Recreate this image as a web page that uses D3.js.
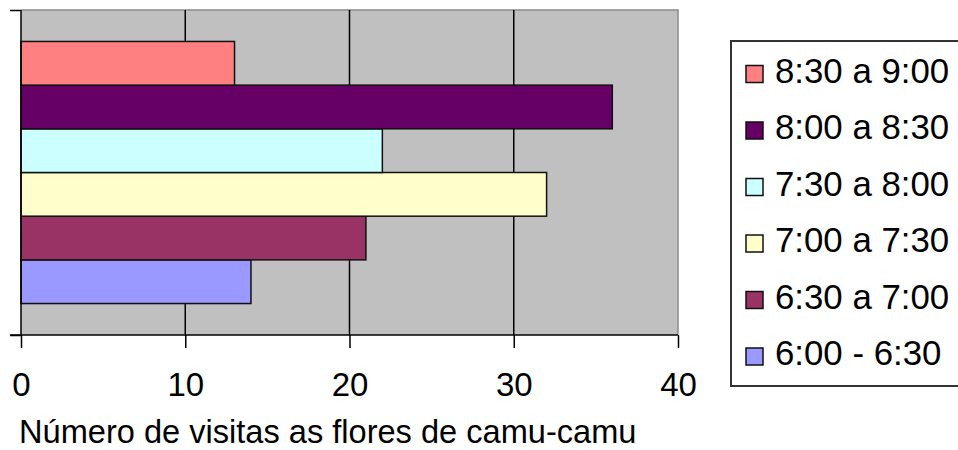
<!DOCTYPE html>
<html><head><meta charset="utf-8">
<script src="https://cdn.jsdelivr.net/npm/d3@7"></script>
<style>
body{margin:0;background:#fff;}
svg{display:block;}
text{font-family:"Liberation Sans",Arial,sans-serif;fill:#000;}
</style></head>
<body>
<svg id="c" width="958" height="450"></svg>
<script>
// Data (series order as in Excel: first series at bottom)
const series = ["6:00 - 6:30","6:30 a 7:00","7:00 a 7:30","7:30 a 8:00","8:00 a 8:30","8:30 a 9:00"];
const values = [14,21,32,22,36,13];
const colors = ["#9999FF","#993366","#FFFFCC","#CCFFFF","#660066","#FF8080"];
const xTicks = [0,10,20,30,40];
const xTitle = "Número de visitas as flores de camu-camu";

const svg = d3.select("#c");
const L = 21, R = 678, T = 10, B = 335;

const x = d3.scaleLinear().domain([0,40]).range([L,R]);
const cat = d3.scaleBand().domain(["c"]).range([B,T]).paddingInner(0).paddingOuter(0.12);
const ys = d3.scaleBand().domain(series).range([cat("c")+cat.bandwidth(), cat("c")]);

// plot background
svg.append("rect").attr("x",L).attr("y",T).attr("width",R-L).attr("height",B-T).attr("fill","#C0C0C0");
// top & right border (gray)
svg.append("path").attr("d",`M${L},${T}H${R}V${B}`).attr("fill","none").attr("stroke","#8a8a8a").attr("stroke-width",1.5);

// gridlines
svg.append("g").selectAll("line").data(xTicks.filter(t=>t>0&&t<40)).join("line")
  .attr("x1",d=>x(d)).attr("x2",d=>x(d)).attr("y1",T).attr("y2",B)
  .attr("stroke","#000").attr("stroke-width",1.5);

// bars
svg.append("g").selectAll("rect").data(series).join("rect")
  .attr("x",x(0)).attr("y",d=>ys(d)).attr("height",ys.bandwidth())
  .attr("width",(d,i)=>x(values[i])-x(0))
  .attr("fill",(d,i)=>colors[i]).attr("stroke","#111").attr("stroke-width",1.5);

// x axis
const xa = svg.append("g").attr("transform",`translate(0,${B})`)
  .call(d3.axisBottom(x).tickValues(xTicks).tickSize(13).tickPadding(25).tickSizeOuter(0));
xa.select(".domain").remove();
xa.append("line").attr("x1",10).attr("x2",R).attr("stroke","#000").attr("stroke-width",1.5);
xa.selectAll(".tick line").attr("stroke","#000").attr("stroke-width",1.5);
xa.selectAll(".tick text").attr("font-size",33).attr("font-family","'Liberation Sans',Arial,sans-serif").attr("fill","#000");

// y axis (category boundaries)
const yEdge = d3.scaleLinear().domain([0,1]).range([B,T]);
const ya = svg.append("g").attr("transform",`translate(${L},0)`)
  .call(d3.axisLeft(yEdge).tickValues([0,1]).tickSize(11).tickFormat(""));
ya.select(".domain").attr("d",`M0,${T}V${B}`).attr("stroke","#000").attr("stroke-width",1.5);
ya.selectAll(".tick line").attr("stroke","#000").attr("stroke-width",1.5);

// x title
svg.append("text").attr("x",19).attr("y",443).attr("font-size",32.6).text(xTitle);

// legend
const lg = svg.append("g");
lg.append("rect").attr("x",731).attr("y",41).attr("width",240).attr("height",345)
  .attr("fill","#fff").attr("stroke","#333").attr("stroke-width",2);
const rowY = d3.scalePoint().domain(series.slice().reverse()).range([70.5,353]);
const items = lg.selectAll("g.item").data(series.slice().reverse()).join("g").attr("class","item")
  .attr("transform",d=>`translate(0,${rowY(d)})`);
items.append("rect").attr("x",746).attr("y",-5).attr("width",17).attr("height",17)
  .attr("fill",d=>colors[series.indexOf(d)]).attr("stroke","#111").attr("stroke-width",1.5);
items.append("text").attr("x",775).attr("y",12).attr("font-size",34.8).text(d=>d);
</script>
</body></html>
